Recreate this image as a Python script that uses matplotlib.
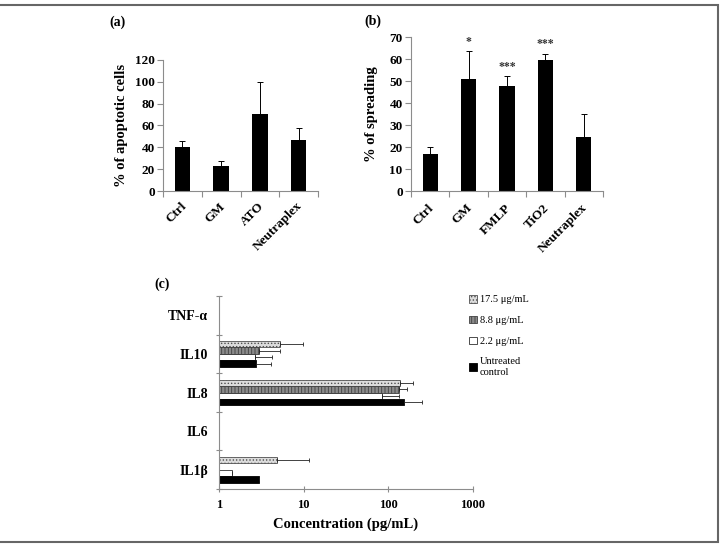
import matplotlib
matplotlib.use("Agg")
import matplotlib.pyplot as plt
from matplotlib.patches import Rectangle
import numpy as np

plt.rcParams['font.family'] = ['Liberation Serif', 'DejaVu Serif']
plt.rcParams['hatch.linewidth'] = 0.6

# (a) apoptosis
apo_labels = ['Ctrl', 'GM', 'ATO', 'Neutraplex']
apo_vals = [40.6, 23.2, 70.2, 46.4]
apo_err = [4.8, 4.0, 29.8, 11.0]

# (b) spreading
spr_labels = ['Ctrl', 'GM', 'FMLP', 'TiO2', 'Neutraplex']
spr_vals = [16.8, 51.1, 47.6, 59.7, 24.4]
spr_err = [3.3, 12.6, 4.7, 2.8, 10.6]
spr_stars = ['', '*', '***', '***', '']

# (c) cytokines, log scale
cyto = ['TNF-α', 'IL10', 'IL8', 'IL6', 'IL1β']
series = ['17.5 μg/mL', '8.8 μg/mL', '2.2 μg/mL', 'Untreated\ncontrol']
c_vals = {
    '17.5 μg/mL': [np.nan, 5.26, 138, np.nan, 4.81],
    '8.8 μg/mL': [np.nan, 2.97, 135, np.nan, np.nan],
    '2.2 μg/mL': [np.nan, 2.66, 85, np.nan, 1.43],
    'Untreated\ncontrol': [np.nan, 2.74, 154, np.nan, 2.97],
}
c_errtop = {
    '17.5 μg/mL': [np.nan, 9.9, 198, np.nan, 11.7],
    '8.8 μg/mL': [np.nan, 5.26, 166, np.nan, np.nan],
    '2.2 μg/mL': [np.nan, 4.27, 135, np.nan, np.nan],
    'Untreated\ncontrol': [np.nan, 4.08, 249, np.nan, np.nan],
}
c_style = {
    '17.5 μg/mL': dict(facecolor='#dcdcdc', edgecolor='#505050', hatch='.....'),
    '8.8 μg/mL': dict(facecolor='#8a8a8a', edgecolor='#404040', hatch='|||||'),
    '2.2 μg/mL': dict(facecolor='white', edgecolor='#303030', hatch=None),
    'Untreated\ncontrol': dict(facecolor='black', edgecolor='black', hatch=None),
}

fig = plt.figure(figsize=(7.2, 5.44), dpi=100)
W, H = 720, 544
spine_col = '#8c8c8c'

def ax_px(l, t, r, b):
    return fig.add_axes([l / W, 1 - b / H, (r - l) / W, (b - t) / H])

def style_bar_axes(ax, n):
    for s in ['top', 'right']:
        ax.spines[s].set_visible(False)
    for s in ['left', 'bottom']:
        ax.spines[s].set_color(spine_col)
        ax.spines[s].set_linewidth(0.8)
    ax.set_xlim(-0.5, n - 0.5)
    ax.set_xticks(np.arange(n + 1) - 0.5)
    ax.set_xticklabels([])
    ax.tick_params(axis='x', length=4, color=spine_col, width=0.8)
    ax.tick_params(axis='y', length=4, color=spine_col, width=0.8, labelsize=9.5, pad=2)
    for t in ax.get_yticklabels():
        t.set_fontweight('bold')

def cat_labels(ax, labels):
    for i, lab in enumerate(labels):
        ax.text(i - 0.06, -0.07, lab, transform=ax.get_xaxis_transform(), rotation=45,
                ha='right', va='top', rotation_mode='anchor', fontsize=9.5, fontweight='bold')

# panel a
ax1 = ax_px(163, 60, 318, 191)
x = np.arange(len(apo_labels))
ax1.bar(x, apo_vals, width=0.4, color='black',
        yerr=[np.zeros(len(apo_err)), apo_err], error_kw=dict(ecolor='black', elinewidth=0.7, capsize=2, capthick=0.7))
ax1.set_ylim(0, 120)
ax1.set_yticks(np.arange(0, 121, 20))
style_bar_axes(ax1, len(apo_labels))
cat_labels(ax1, apo_labels)
ax1.set_ylabel('% of apoptotic cells', fontsize=10.5, fontweight='bold', labelpad=5)
fig.text(118 / W, 1 - 22 / H, '(a)', fontsize=10, fontweight='bold', ha='center', va='center')

# panel b
ax2 = ax_px(411, 37, 603, 191)
x = np.arange(len(spr_labels))
ax2.bar(x, spr_vals, width=0.4, color='black',
        yerr=[np.zeros(len(spr_err)), spr_err], error_kw=dict(ecolor='black', elinewidth=0.7, capsize=2, capthick=0.7))
ax2.set_ylim(0, 70)
ax2.set_yticks(np.arange(0, 71, 10))
style_bar_axes(ax2, len(spr_labels))
cat_labels(ax2, spr_labels)
for i, s in enumerate(spr_stars):
    if s:
        ax2.text(i, spr_vals[i] + spr_err[i] + 1.5, s, ha='center', va='bottom', fontsize=8.5,
                 fontweight='bold', color='#333333')
ax2.set_ylabel('% of spreading', fontsize=10.5, fontweight='bold', labelpad=8)
fig.text(373 / W, 1 - 21 / H, '(b)', fontsize=10, fontweight='bold', ha='center', va='center')

# panel c
ax3 = ax_px(219, 296, 473, 489)
ax3.set_xscale('log')
ax3.set_xlim(1, 1000)
ax3.set_ylim(len(cyto) - 0.5, -0.5)
y = np.arange(len(cyto))
h = 0.166
handles = []
for k, s in enumerate(series):
    off = (k - 1.5) * h
    v = np.array(c_vals[s])
    e = np.array(c_errtop[s]) - v
    st = c_style[s]
    b = ax3.barh(y + off, v - 1, left=1, height=h, color=st['facecolor'], edgecolor=st['edgecolor'],
                 hatch=st['hatch'], linewidth=0.6, label=s)
    handles.append(b)
    ax3.errorbar(v, y + off, xerr=[np.zeros(len(e)), e], fmt='none', ecolor='#222222',
                 elinewidth=0.6, capsize=1.5, capthick=0.6)
for sname in ['top', 'right']:
    ax3.spines[sname].set_visible(False)
for sname in ['left', 'bottom']:
    ax3.spines[sname].set_color(spine_col)
    ax3.spines[sname].set_linewidth(0.8)
ax3.set_yticks(np.arange(len(cyto) + 1) - 0.5, minor=False)
ax3.set_yticklabels([])
ax3.set_yticks(y, minor=True)
ax3.set_yticklabels(cyto, minor=True, fontsize=10, fontweight='bold')
ax3.tick_params(axis='y', which='major', length=5, direction='inout', color=spine_col, width=0.8)
ax3.tick_params(axis='y', which='minor', length=0, pad=8)
ax3.set_xticks([1, 10, 100, 1000])
ax3.set_xticklabels(['1', '10', '100', '1000'], fontsize=9, fontweight='bold')
ax3.xaxis.set_minor_locator(matplotlib.ticker.NullLocator())
ax3.tick_params(axis='x', length=4, direction='inout', color=spine_col, width=0.8, pad=5)
ax3.set_xlabel('Concentration (pg/mL)', fontsize=10.5, fontweight='bold', labelpad=5)
fig.text(162 / W, 1 - 284 / H, '(c)', fontsize=10, fontweight='bold', ha='center', va='center')

fig.legend(handles=handles, labels=series, loc='upper left', bbox_to_anchor=(464 / W, 1 - 290 / H),
           frameon=False, fontsize=7.5, handlelength=0.7, handleheight=0.7, handletextpad=0.3,
           labelspacing=1.1, borderpad=0)

# outer frame
fig.patches.append(Rectangle((-0.01, 1 - 542 / H), 718 / W + 0.01, (542 - 5) / H,
                             transform=fig.transFigure, fill=False, edgecolor='#666666', linewidth=1.5))

fig.savefig('out.png', dpi=100)
